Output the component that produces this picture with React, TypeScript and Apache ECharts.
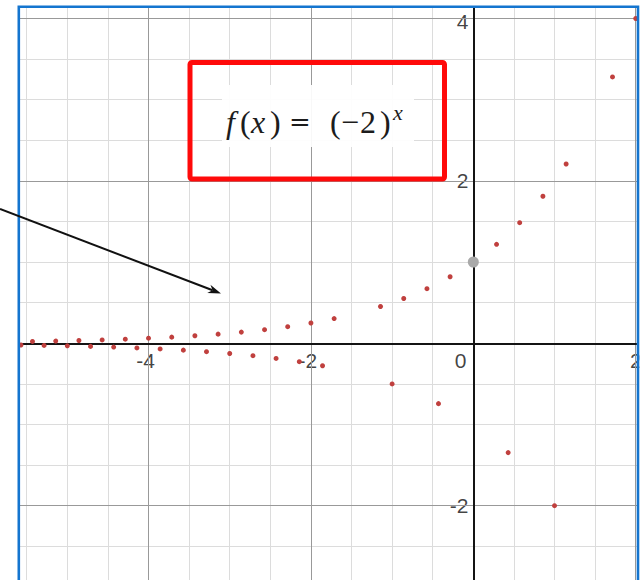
import React, { useEffect, useRef } from "react";
import * as echarts from "echarts";

// Visible window of the plot (data units)
const X_MIN = -5.595;
const X_MAX = 2.028;
const Y_MIN = -2.915;
const Y_MAX = 4.142;

// Grid lines
const minorX = [-5.5, -5, -4.5, -4, -3.5, -3, -2.5, -2, -1.5, -1, -0.5, 0.5, 1, 1.5, 2];
const minorY = [-2.5, -2, -1.5, -1, -0.5, 0.5, 1, 1.5, 2, 2.5, 3, 3.5, 4];
const majorX = [-4, -2, 2];
const majorY = [-2, 2, 4];

// Tick labels
const xTickValues = [-4, -2, 2];
const xTickLabels = ["-4", "-2", "2"];
const yTickValues = [-2, 2, 4];
const yTickLabels = ["-2", "2", "4"];
const originLabel = "0";

// Plotted points of f(x) = (-2)^x
const pointX = [
  -5.571, -5.429, -5.286, -5.143, -5.0, -4.857, -4.714, -4.571, -4.429, -4.286,
  -4.143, -4.0, -3.857, -3.714, -3.571, -3.429, -3.286, -3.143, -3.0, -2.857,
  -2.714, -2.571, -2.429, -2.286, -2.143, -2.0, -1.857, -1.714,
  -1.143, -1.0, -0.857, -0.571, -0.429, -0.286,
  0.286, 0.429, 0.571, 0.857, 1.0, 1.143, 1.714, 2.0,
];
const pointY = [
  -0.021, 0.023, -0.026, 0.028, -0.031, 0.035, -0.038, 0.042, -0.046, 0.051,
  -0.057, 0.063, -0.069, 0.076, -0.084, 0.093, -0.103, 0.113, -0.125, 0.138,
  -0.152, 0.168, -0.186, 0.205, -0.226, 0.25, -0.276, 0.305,
  0.453, -0.5, 0.552, 0.673, -0.743, 0.82,
  1.219, -1.346, 1.486, 1.811, -2.0, 2.208, 3.281, 4.0,
];
const highlightX = [0];
const highlightY = [1];

const MINOR = "#dcdcdc";
const MAJOR = "#999999";
const AXIS = "#141414";
const DOT = "#c0403e";
const FRAME = "#1475cf";

// annotation geometry (pixels)
const ARROW_START = [0, 209];
const ARROW_TIP = [221, 293.5];

export default function App() {
  const ref = useRef<HTMLDivElement>(null);

  useEffect(() => {
    const chart = echarts.init(ref.current!, null, { renderer: "svg" });

    const lineData: any[] = [
      ...minorX.map((v) => ({ xAxis: v, lineStyle: { color: MINOR, width: 1, type: "solid" } })),
      ...minorY.map((v) => ({ yAxis: v, lineStyle: { color: MINOR, width: 1, type: "solid" } })),
      ...majorX.map((v) => ({ xAxis: v, lineStyle: { color: MAJOR, width: 1, type: "solid" } })),
      ...majorY.map((v) => ({ yAxis: v, lineStyle: { color: MAJOR, width: 1, type: "solid" } })),
      { xAxis: 0, lineStyle: { color: AXIS, width: 2, type: "solid" } },
      { yAxis: 0, lineStyle: { color: AXIS, width: 2, type: "solid" } },
    ];

    const tickLabelData: any[] = [
      ...xTickValues.map((v, i) => ({
        value: [v, 0],
        name: xTickLabels[i],
        label: {
          align: "center",
          offset: [v < 0 ? -3 : 0, 17],
        },
      })),
      ...yTickValues.map((v, i) => ({
        value: [0, v],
        name: yTickLabels[i],
        label: {
          align: "right",
          offset: [-5, v === 4 ? 2.5 : 0],
        },
      })),
      {
        value: [0, 0],
        name: originLabel,
        label: {
          align: "right",
          offset: [-7, 17],
        },
      },
    ];

    // arrow head geometry
    const dx = ARROW_TIP[0] - ARROW_START[0];
    const dy = ARROW_TIP[1] - ARROW_START[1];
    const len = Math.sqrt(dx * dx + dy * dy);
    const ux = dx / len;
    const uy = dy / len;
    const nx = -uy;
    const ny = ux;
    const headLen = 13;
    const headW = 4.5;
    const bx = ARROW_TIP[0] - headLen * ux;
    const by = ARROW_TIP[1] - headLen * uy;
    const notchX = ARROW_TIP[0] - 9 * ux;
    const notchY = ARROW_TIP[1] - 9 * uy;

    const serif = "Liberation Serif";
    const mathY = 122;
    const mathText = (text: string, x: number, italic: boolean, size = 32, fam = serif, y = mathY) => ({
      type: "text",
      x,
      y,
      z: 30,
      style: {
        text,
        fill: "#1c1c1c",
        fontSize: size,
        fontFamily: fam,
        fontStyle: italic ? "italic" : "normal",
        align: "left",
        verticalAlign: "middle",
      },
    });

    chart.setOption({
      animation: false,
      backgroundColor: "#ffffff",
      grid: { left: 19, top: 7, right: 6, bottom: 0, containLabel: false },
      xAxis: {
        type: "value",
        min: X_MIN,
        max: X_MAX,
        axisLine: { show: false },
        axisTick: { show: false },
        axisLabel: { show: false },
        splitLine: { show: false },
      },
      yAxis: {
        type: "value",
        min: Y_MIN,
        max: Y_MAX,
        axisLine: { show: false },
        axisTick: { show: false },
        axisLabel: { show: false },
        splitLine: { show: false },
      },
      series: [
        {
          type: "scatter",
          z: 1,
          data: [],
          silent: true,
          markLine: {
            silent: true,
            symbol: ["none", "none"],
            label: { show: false },
            data: lineData,
          },
        },
        {
          type: "scatter",
          z: 4,
          silent: true,
          symbol: "circle",
          symbolSize: 1,
          itemStyle: { color: "rgba(0,0,0,0)" },
          label: {
            show: true,
            formatter: "{b}",
            position: "inside",
            verticalAlign: "middle",
            fontSize: 21,
            fontFamily: "Liberation Sans",
            color: "#111111",
            textBorderColor: "#ffffff",
            textBorderWidth: 4,
          },
          data: tickLabelData,
        },
        {
          type: "scatter",
          z: 5,
          silent: true,
          symbolSize: 5,
          itemStyle: { color: DOT, opacity: 1 },
          data: pointX.map((x, i) => [x, pointY[i]]),
        },
        {
          type: "scatter",
          z: 6,
          silent: true,
          symbolSize: 11,
          itemStyle: { color: "#a9a9a9", opacity: 1 },
          data: highlightX.map((x, i) => [x, highlightY[i]]),
        },
      ],
      graphic: [
        // formula backdrop
        {
          type: "rect",
          z: 20,
          shape: { x: 222, y: 85, width: 192, height: 62 },
          style: { fill: "#ffffff", opacity: 0.93 },
        },
        // red box
        {
          type: "rect",
          z: 25,
          shape: { x: 190, y: 62.5, width: 254.5, height: 116.5, r: 2 },
          style: { fill: "none", stroke: "#ff0a0a", lineWidth: 5 },
        },
        mathText("f", 226, true),
        mathText("(", 240, false),
        mathText("x", 251, true),
        mathText(")", 270, false),
        mathText("=", 289, false, 26, "DejaVu Serif"),
        mathText("(", 330, false),
        mathText("\u2212", 341, false),
        mathText("2", 360, false),
        mathText(")", 380, false),
        mathText("x", 393, true, 22, serif, 112),
        // outside the frame
        {
          type: "rect",
          z: 40,
          shape: { x: 639.3, y: 0, width: 10, height: 580 },
          style: { fill: "#ffffff" },
        },
        {
          type: "rect",
          z: 40,
          shape: { x: 0, y: 0, width: 644, height: 5.5 },
          style: { fill: "#ffffff" },
        },
        {
          type: "rect",
          z: 40,
          shape: { x: 0, y: 0, width: 17.5, height: 580 },
          style: { fill: "#ffffff" },
        },
        // blue frame
        {
          type: "polyline",
          z: 45,
          shape: {
            points: [
              [18.8, 600],
              [18.8, 6.7],
              [638, 6.7],
              [638, 600],
            ],
          },
          style: { stroke: FRAME, lineWidth: 2.6, fill: "none" },
        },
        // arrow
        {
          type: "line",
          z: 50,
          shape: { x1: ARROW_START[0], y1: ARROW_START[1], x2: notchX, y2: notchY },
          style: { stroke: "#111", lineWidth: 2 },
        },
        {
          type: "polygon",
          z: 50,
          shape: {
            points: [
              [ARROW_TIP[0], ARROW_TIP[1]],
              [bx + headW * nx, by + headW * ny],
              [notchX, notchY],
              [bx - headW * nx, by - headW * ny],
            ],
          },
          style: { fill: "#111" },
        },
      ],
    });

    return () => {
      chart.dispose();
    };
  }, []);

  return (
    <div
      ref={ref}
      style={{ position: "fixed", left: 0, top: 0, width: 644, height: 580, background: "#fff" }}
    />
  );
}
